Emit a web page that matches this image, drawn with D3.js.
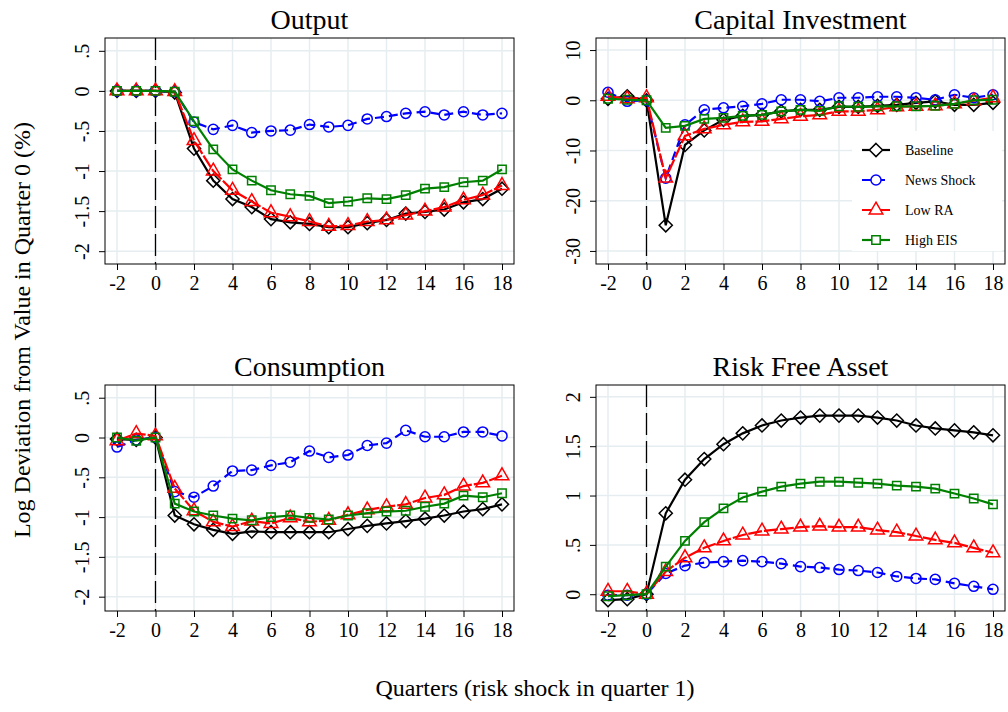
<!DOCTYPE html>
<html><head><meta charset="utf-8">
<script src="https://cdn.jsdelivr.net/npm/d3@7"></script>
<style>body{margin:0;background:#fff;font-family:"Liberation Serif","Times New Roman",serif;}</style>
</head><body><div id="chart"></div>
<script>
var quarters = d3.range(-2, 19);
var seriesNames = ["Baseline", "News Shock", "Low RA", "High EIS"];

var outputBaseline = [0,0,0,-0.02,-0.72,-1.12,-1.35,-1.45,-1.6,-1.64,-1.66,-1.7,-1.7,-1.65,-1.61,-1.53,-1.51,-1.48,-1.39,-1.35,-1.22];
var outputNews = [0,0,0,-0.01,-0.39,-0.48,-0.43,-0.52,-0.5,-0.49,-0.42,-0.45,-0.43,-0.35,-0.32,-0.28,-0.26,-0.3,-0.26,-0.3,-0.28];
var outputLowRA = [0,0,0,-0.01,-0.62,-1.0,-1.24,-1.38,-1.52,-1.57,-1.63,-1.69,-1.68,-1.63,-1.61,-1.55,-1.5,-1.45,-1.36,-1.3,-1.18];
var outputHighEIS = [0,0,0,-0.01,-0.38,-0.73,-0.98,-1.12,-1.24,-1.29,-1.31,-1.4,-1.38,-1.34,-1.35,-1.3,-1.22,-1.2,-1.14,-1.12,-0.98];

var capBaseline = [0.3,0.8,0,-24.9,-8.9,-6,-3.9,-3.1,-2.9,-2.2,-1.9,-1.9,-1.3,-1.3,-1.1,-0.9,-0.5,-0.2,-0.9,-0.9,-0.5];
var capNews = [1.6,-0.2,0,-15.5,-4.9,-1.9,-1.5,-1.2,-0.7,0.1,0.1,-0.2,0.5,0.5,0.7,0.7,0.5,0.1,1.1,0.5,1.1];
var capLowRA = [0.8,0.3,0.5,-15.5,-7.1,-5.7,-4.9,-4.3,-4.2,-3.7,-3.2,-2.9,-2.2,-2.2,-1.9,-1.3,-1.2,-1.1,-0.7,-0.1,0.5];
var capHighEIS = [0.3,0.1,0,-5.5,-5.1,-3.7,-3.5,-3.1,-2.9,-2.2,-1.9,-2.1,-1.2,-1.3,-1.2,-1.2,-1.2,-1.1,-0.7,0,0.1];

var consBaseline = [-0.02,-0.03,0,-0.98,-1.09,-1.16,-1.21,-1.18,-1.19,-1.19,-1.19,-1.19,-1.15,-1.11,-1.08,-1.05,-1.02,-0.98,-0.93,-0.9,-0.84];
var consNews = [-0.12,-0.03,0,-0.68,-0.75,-0.61,-0.42,-0.41,-0.35,-0.31,-0.17,-0.25,-0.22,-0.1,-0.07,0.09,0.01,0.01,0.07,0.07,0.02];
var consLowRA = [-0.04,0.05,0.02,-0.64,-0.92,-1.06,-1.12,-1.05,-1.08,-1.01,-1.06,-1.04,-0.97,-0.91,-0.87,-0.84,-0.76,-0.72,-0.61,-0.57,-0.48];
var consHighEIS = [0,-0.04,0,-0.83,-0.93,-0.98,-1.02,-1.04,-1.0,-0.98,-1.01,-1.03,-0.98,-0.95,-0.93,-0.92,-0.87,-0.83,-0.73,-0.75,-0.7];

var rfBaseline = [-0.06,-0.05,0,0.82,1.16,1.37,1.52,1.63,1.71,1.76,1.79,1.81,1.81,1.81,1.79,1.76,1.71,1.68,1.66,1.64,1.61];
var rfNews = [-0.01,-0.01,0,0.21,0.29,0.32,0.33,0.34,0.33,0.31,0.28,0.27,0.25,0.24,0.22,0.18,0.16,0.15,0.11,0.08,0.05];
var rfLowRA = [0.03,0.03,0,0.23,0.37,0.47,0.54,0.6,0.64,0.66,0.68,0.69,0.68,0.68,0.65,0.63,0.59,0.55,0.52,0.47,0.42];
var rfHighEIS = [-0.02,-0.01,0,0.28,0.54,0.73,0.87,0.98,1.04,1.09,1.12,1.14,1.14,1.13,1.12,1.1,1.09,1.07,1.02,0.97,0.91];

var outTicks = [0.5,0,-0.5,-1,-1.5,-2], outLabels = [".5","0","-.5","-1","-1.5","-2"];
var capTicks = [10,0,-10,-20,-30], capLabels = ["10","0","-10","-20","-30"];
var rfTicks = [2,1.5,1,0.5,0], rfLabels = ["2","1.5","1",".5","0"];
var xTicks = d3.range(-2, 19, 2);

var colors = ["#000", "#0000ff", "#ff0000", "#008000"];
var dashes = [null, "9,5", "14,2", null];
var symbols = [d3.symbolDiamond2, d3.symbolCircle, d3.symbolTriangle, d3.symbolSquare];
var symSizes = [110, 80, 80, 70];

var panels = [
  {title: "Output", data: [outputBaseline, outputNews, outputLowRA, outputHighEIS], y0: 0.66, y1: -2.16, ticks: outTicks, labels: outLabels, x: 105, y: 38},
  {title: "Capital Investment", data: [capBaseline, capNews, capLowRA, capHighEIS], y0: 12.4, y1: -32.6, ticks: capTicks, labels: capLabels, x: 596, y: 38, legend: true},
  {title: "Consumption", data: [consBaseline, consNews, consLowRA, consHighEIS], y0: 0.66, y1: -2.18, ticks: outTicks, labels: outLabels, x: 105, y: 385},
  {title: "Risk Free Asset", data: [rfBaseline, rfNews, rfLowRA, rfHighEIS], y0: 2.12, y1: -0.17, ticks: rfTicks, labels: rfLabels, x: 596, y: 385}
];

var W = 409, H = 226;
var svg = d3.select("#chart").append("svg").attr("width", 1008).attr("height", 712);

panels.forEach(function (p) {
  var g = svg.append("g").attr("transform", "translate(" + p.x + "," + p.y + ")");
  var x = d3.scaleLinear().domain([-2, 18]).range([12, W - 12]);
  var y = d3.scaleLinear().domain([p.y0, p.y1]).range([0, H]);

  g.selectAll(".gx").data(xTicks).enter().append("line")
    .attr("x1", function (d) { return x(d); }).attr("x2", function (d) { return x(d); })
    .attr("y1", 0).attr("y2", H).attr("stroke", "#e6edf1").attr("stroke-width", 1.5);
  g.selectAll(".gy").data(p.ticks).enter().append("line")
    .attr("y1", function (d) { return y(d); }).attr("y2", function (d) { return y(d); })
    .attr("x1", 0).attr("x2", W).attr("stroke", "#e6edf1").attr("stroke-width", 1.5);

  g.append("line").attr("x1", x(0)).attr("x2", x(0)).attr("y1", 0).attr("y2", H)
    .attr("stroke", "#000").attr("stroke-width", 1.3).attr("stroke-dasharray", "22,6");

  g.append("rect").attr("width", W).attr("height", H).attr("fill", "none").attr("stroke", "#000").attr("stroke-width", 1);

  var xa = g.append("g").attr("transform", "translate(0," + H + ")")
    .call(d3.axisBottom(x).tickValues(xTicks).tickSize(6).tickPadding(6)
      .tickFormat(function (d) { return String(d); }));
  var ya = g.append("g").call(d3.axisLeft(y).tickValues(p.ticks).tickSize(6)
    .tickFormat(function (d, i) { return p.labels[i]; }));
  [xa, ya].forEach(function (a) {
    a.select(".domain").remove();
    a.selectAll("text").attr("font-family", "Liberation Serif").attr("font-size", 20).attr("fill", "#000");
  });
  ya.selectAll(".tick text").attr("text-anchor", "middle").attr("x", 0).attr("dy", 0)
    .attr("transform", "translate(-16,0) rotate(-90)");

  g.append("text").attr("x", W / 2).attr("y", -9).attr("text-anchor", "middle")
    .attr("font-size", 28).text(p.title);

  var line = d3.line().x(function (d, i) { return x(quarters[i]); }).y(function (d) { return y(d); });
  p.data.forEach(function (vals, k) {
    g.append("path").datum(vals).attr("d", line).attr("fill", "none")
      .attr("stroke", colors[k]).attr("stroke-width", 2.2).attr("stroke-dasharray", dashes[k]);
    g.selectAll(".m" + k).data(vals).enter().append("path")
      .attr("d", d3.symbol().type(symbols[k]).size(symSizes[k]))
      .attr("transform", function (d, i) { return "translate(" + x(quarters[i]) + "," + y(d) + ")"; })
      .attr("fill", "none").attr("stroke", colors[k]).attr("stroke-width", 1.5);
  });

  if (p.legend) {
    var lg = g.append("g").attr("transform", "translate(264,107)");
    lg.append("rect").attr("x", -8).attr("y", -14).attr("width", 150).attr("height", 120).attr("fill", "#fff");
    seriesNames.forEach(function (name, k) {
      var r = lg.append("g").attr("transform", "translate(0," + (k * 30 + 5) + ")");
      r.append("line").attr("x1", 2).attr("x2", 30).attr("stroke", colors[k]).attr("stroke-width", 2.2)
        .attr("stroke-dasharray", dashes[k]);
      r.append("path").attr("d", d3.symbol().type(symbols[k]).size(symSizes[k]))
        .attr("transform", "translate(16,0)").attr("fill", "#fff").attr("stroke", colors[k]).attr("stroke-width", 1.5);
      r.append("text").attr("x", 45).attr("y", 5).attr("font-size", 14).text(name);
    });
  }
});

svg.append("text").attr("transform", "translate(30,330) rotate(-90)").attr("text-anchor", "middle")
  .attr("font-size", 24).text("Log Deviation from Value in Quarter 0 (%)");
svg.append("text").attr("x", 535).attr("y", 696).attr("text-anchor", "middle")
  .attr("font-size", 24).text("Quarters (risk shock in quarter 1)");
</script></body></html>
